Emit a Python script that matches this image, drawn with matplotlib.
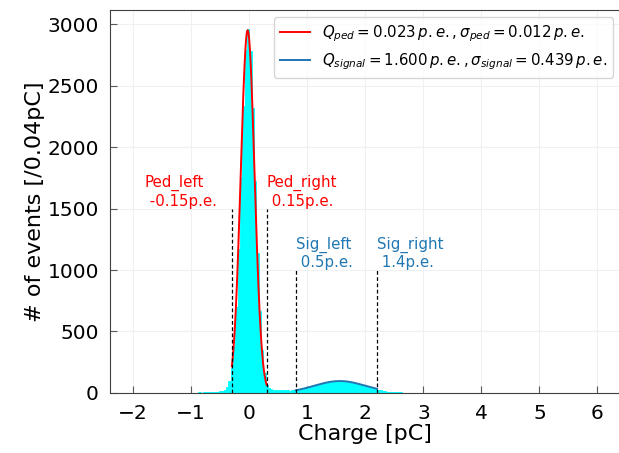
import numpy as np
import matplotlib
matplotlib.use("Agg")
import matplotlib.pyplot as plt

# histogram counts, 0.04 pC bins centred from -1.02 to 2.98 pC
bin_width = 0.04
first_center = -1.02
counts = [
    2, 1, 3, 2, 4, 3, 5, 6, 5, 8,            # -1.02 .. -0.66
    7, 10, 9, 14, 18, 25, 48, 95, 205, 380,  # -0.62 .. -0.26
    700, 1170, 1760, 2330, 2790, 2960, 2780, 2320, 1720, 1140,  # -0.22 .. 0.14
    670, 350, 160, 68, 38, 30, 27, 25, 24, 22,  # 0.18 .. 0.54
    23, 21, 22, 20, 21, 24, 27, 31, 33, 38,     # 0.58 .. 0.94
    42, 46, 53, 57, 62, 68, 74, 78, 82, 88,     # 0.98 .. 1.34
    90, 93, 91, 96, 95, 93, 97, 92, 90, 87,     # 1.38 .. 1.74
    84, 80, 75, 70, 64, 58, 52, 46, 41, 36,     # 1.78 .. 2.14
    31, 27, 22, 18, 15, 12, 10, 8, 7, 5,        # 2.18 .. 2.54
    4, 4, 3, 2, 2, 1, 2, 1, 1, 0,               # 2.58 .. 2.94
    1,                                          # 2.98
]

# gaussian fit parameters (pC) and fit ranges
ped_amp, ped_mu, ped_sigma = 2950, -0.028, 0.119
sig_amp, sig_mu, sig_sigma = 97, 1.56, 0.44
ped_range = (-0.3, 0.3)
sig_range = (0.8, 2.2)

ped_label = r"$Q_{ped}=0.023\,p.e.,\sigma_{ped}=0.012\,p.e.$"
sig_label = r"$Q_{signal}=1.600\,p.e.,\sigma_{signal}=0.439\,p.e.$"

# cut lines: position, height, text
cut_x = [-0.3, 0.3, 0.8, 2.2]
cut_h = [1500, 1500, 1000, 1000]
cut_text = ["Ped_left\n -0.15p.e.", "Ped_right\n 0.15p.e.",
            "Sig_left\n 0.5p.e.", "Sig_right\n 1.4p.e."]
cut_text_x = [-1.8, 0.3, 0.8, 2.2]
cut_color = ["red", "red", "#1f77b4", "#1f77b4"]


def gauss(x, a, mu, s):
    return a * np.exp(-(x - mu) ** 2 / (2 * s ** 2))


centers = first_center + bin_width * np.arange(len(counts))

fig = plt.figure(figsize=(6.19, 4.53), dpi=100)
ax = fig.add_axes([0.1777, 0.1325, 0.825, 0.8455])

ax.bar(centers, counts, width=bin_width, color="cyan", edgecolor="cyan",
       linewidth=0.6, zorder=2)

xp = np.linspace(*ped_range, 200)
ax.plot(xp, gauss(xp, ped_amp, ped_mu, ped_sigma), color="red", lw=1.4,
        label=ped_label, zorder=3)
xs = np.linspace(*sig_range, 200)
ax.plot(xs, gauss(xs, sig_amp, sig_mu, sig_sigma), color="#1f77b4", lw=1.4,
        label=sig_label, zorder=3)

for x, h, t, tx, c in zip(cut_x, cut_h, cut_text, cut_text_x, cut_color):
    ax.plot([x, x], [0, h], ls=(0, (3, 2)), color="black", lw=0.9, zorder=4)
    ax.text(tx, h, t, color=c, fontsize=10.8, ha="left", va="bottom")

ax.set_xlim(-2.4, 6.4)
ax.set_ylim(0, 3115)
ax.set_xticks(range(-2, 7))
ax.set_yticks(range(0, 3001, 500))
ax.grid(True, color="#f0f0f0", lw=0.8, zorder=0)
ax.set_axisbelow(True)
ax.tick_params(direction="in", length=5, color="0.35", labelsize=14.5, pad=8)
for sp in ax.spines.values():
    sp.set_color("0.25")

ax.set_xlabel("Charge [pC]", fontsize=16, labelpad=1)
ax.set_ylabel("# of events [/0.04pC]", fontsize=16, labelpad=2)
ax.legend(loc="upper right", fontsize=10.8)

fig.savefig("out.png", dpi=100)
